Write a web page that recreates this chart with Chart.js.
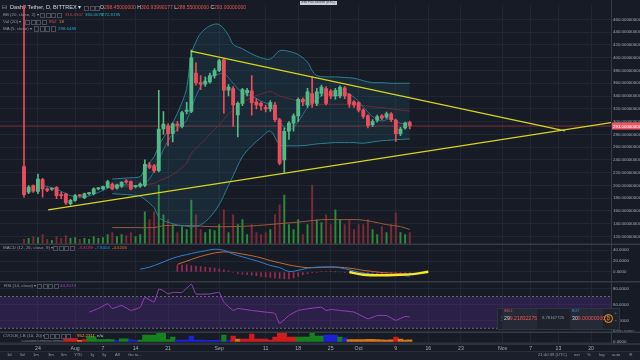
<!DOCTYPE html>
<html>
<head>
<meta charset="utf-8">
<script src="https://cdn.jsdelivr.net/npm/chart.js@4.4.1/dist/chart.umd.min.js"></script>
<style>
  html, body { margin: 0; padding: 0; background: #171b26; }
  #wrap { position: relative; width: 640px; height: 360px; overflow: hidden; background: #171b26; font-family: "Liberation Sans", Arial, sans-serif; }
  #c { position: absolute; left: 0; top: 0; }
  .t { position: absolute; white-space: nowrap; line-height: 1; }
  .ic { position: absolute; width: 3.2px; height: 3.2px; border: 0.7px solid #4c4f5a; }
  #bar { position: absolute; left: 0; top: 351px; width: 640px; height: 9px; background: #1b1f2b; border-top: 1px solid #2a2e39; }
  #widget { position: absolute; left: 497px; top: 308px; width: 123px; height: 22px; background: #1e222d; border: 1px solid #2f3340; box-sizing: border-box; }
</style>
</head>
<body>
<div id="wrap">
  <canvas id="c" width="640" height="360"></canvas>
  <div id="bar"></div>
  <div id="widget"></div>
  <div id="ov"></div>
</div>
<script>
// Dash / Tether daily, Bittrex. Day index 0 = Jul 21
const opens  = [229.6,189.5,199.8,190.5,209,194.6,194,197,184.5,186.9,
                171.4,176.6,184.5,180.7,187,187,194.6,194.6,197,202,
                195.6,198.7,207,206,198,198.7,199.8,232,230.7,222.9,
                288.4,293.5,281,296,292.5,316,315.7,376,361,358.5,
                362,372,380,396.6,349,351.7,310.5,328.6,345,348,
                331,328.6,322.4,319.8,326,302.8,240,284.8,297.6,309,
                334.7,326,344,328.6,344,351.7,347.6,340,340,353,
                342.5,331,329.6,318,309,295,302,309,307,312,
                301.8,281,290,298.45];
const highs  = [600,199.8,201,217.8,211,196,196,198,189,188,
                178,186,186,188,189,196,197,199,208,204,
                202,206,209,207,200,204,240,236,233,349,
                315.7,297,298,300,316,330,412,392,372,370,
                376,383,398,399,358,355,331,352,352,372,
                336,331,326,333,330,305,290,300,312,337,
                337,352,370,352,357,355,350,352,356,355,
                344,333,331,320,311,303,310,311,315,314,
                304,291,299,300.94];
const lows   = [181.7,186.9,189,187,181.7,190,192,179,179,170,
                169,175,182,179,185,185,193,193,196,193,
                194,197,203,193,196,197,198,226,220,221,
                280,262,268,285,290,312,314,357,350,355,
                360,368,378,313,340,292.5,276,325,340,310,
                320,318,315,316,300,232,220.4,272,285,300,
                325,322,322,325,340,326,336,335,337,336,
                322,322,315,305,290,292,299,303,305,300,
                269,278,288,288.55];
const closes = [185.3,197.2,191,210,194.6,192,194.6,184,184,172.5,
                176.6,184,183.5,187,187.5,194.6,195.4,198,206,194.6,
                200.8,204.9,205,194.6,198.6,202,233,228,223,288.4,
                296,281,296.6,293,314,318,399.7,360.5,358.5,363.6,
                372,380,395.5,349,354,326,328.6,350,349,329.6,
                326,324.4,319.8,329.6,302.8,234.8,284.8,297.6,309,334.7,
                331,346.6,328.6,346.6,354,328.6,339.9,349,354,340,
                327.5,326,318,308,293.5,300,307.7,305.4,312,302.8,
                281,288.4,297.6,293];
const volumes = [5,6,8,7,10,5,4,8,6,9,
                 6,7,5,6,5,8,6,7,10,12,
                 8,10,9,12,8,10,33,25,33,60,
                 30,25,20,12,18,15,45,30,15,12,
                 15,14,20,35,12,30,20,25,10,20,
                 12,10,12,15,30,40,50,20,15,25,
                 10,20,60,25,22,30,20,35,25,20,
                 25,15,20,20,25,15,10,18,12,20,
                 32,12,10,12];
const volMaDays = [19,24,28,30,33,36,40,45,50,55,60,64,68,72,75,78,81,83];
const volMa     = [17,17,17,19,19,19,18,18,19,21,23,25,25,25,23,20,18,15];

// Bollinger (20, 2)
const bbDays  = [19,21,23,25,26,27,28,29,30,31,32,33,34,35,36,37,38,40,42,44,45,47,49,51,53,55,57,59,61,62,63,65,67,69,71,73,75,77,79,81,83];
const bbUpper = [210,211,212,214,226,236,245,262,275,285,298,313,330,352,405,425,438,450,452,435,421,414,406,400,398,411,410,405,393,380,372,370,370,369,368,364,361,361,360,360,360];
const bbLower = [187,186,185,183,178,172,165,150,145,142,140,138,137,136,135,136,138,150,170,200,215,245,262,275,285,264,262,262,263,264,265,266,267,267,267,266,268,270,271,272,272.8];
const bbBasis = [198,198,198,199,200,202,203,207,210,213,217,222,228,235,250,258,265,280,295,312,318,330,338,343,347,340,336,332,327,326,326,327,327,327,326,325,323,322,320,318,316.45];
const ma5Days = [4,7,10,13,16,19,22,25,27,29,31,33,35,37,39,41,43,45,47,49,51,53,55,57,59,61,63,65,67,69,71,73,75,77,79,81,83];
const ma5     = [200,194,184,182,189,198,201,200,210,240,270,288,302,340,365,372,375,360,345,340,332,325,300,287,300,322,335,343,340,345,338,323,308,301,305,297,298.65];

// trend lines drawn on the chart: [day, price]
const supportLine    = [[5.2,161.7],[126.3,298.3]];
const resistanceLine = [[35.9,410.5],[116.4,285.3]];

// MACD (12, 26, 9)
const macdDays   = [25,27,29,31,33,35,37,39,41,43,45,47,49,51,53,55,57,59,61,63,65,67,69,71,73,75,77,79,81,83];
const macdLine   = [5,9,15,22,28,32,36,39,42,40,33,28,23,18,12,8,1,3,7,9,9,9,6,2,-2,-4,-5,-5,-6,-7.84];
const signalDays = [33,35,37,39,41,43,45,47,49,51,53,55,57,59,61,63,65,67,69,71,73,75,77,79,81,83];
const signalLine = [14,20,26,31,35,37,36,33,30,26,21,17,13,10,8,8,9,9,8,6,3,1,-1,-2,-3,-4.52];
const histStart  = 33;
const macdHist   = [12,13,13,12,11,10,9,8,7,6,4,2,
                    -1,-3,-4,-5,-6,-7,-8,-9,-10,-11,-12,-13,-13,-11,-8,-5,-3,-1.5,-0.5,0.5,
                    1,0.5,0.3,0,-0.5,-1,-2,-3,-4,-4.5,-5,-4.5,-4,-3.5,-3.5,-3.5,-3.4,-3.3,-3.32];
const macdMark   = [[70,0],[73,-5],[78,-6],[83,-4.5],[87,0.5]];

// RSI (14)
const rsiDays = [14,16,18,19,21,23,25,26,28,29,30,31,32,34,36,37,40,42,43,45,46,49,52,54,55,57,59,61,64,65,66,68,71,74,76,78,80,82,83];
const rsiVals = [50.4,55,61,55,58.8,52.5,56.6,69,63,79.6,77.5,73.4,75.4,75.4,85.9,73.4,73.4,75.4,63,52.5,55,52.5,50.4,48.75,35.9,46.25,52.5,54.6,56.6,52.5,53.75,52.5,50.4,42,46,46,40,45,44.21];

// CVOLB_LB (10, 20)
const cvol = [600,700,800,600,900,700,600,800,700,
              1800,1900,1800,800,1200,
              2600,2600,1300,1300,1400,1200,
              900,1600,1600,1200,800,
              1000,3500,3500,3500,5200,5200,1200,2500,
              1000,1000,1000,3000,1000,1000,900,900,900,1000,
              3500,1000,
              3000,1500,1500,1500,4000,1500,1500,1500,1000,2500,4500,4500,2500,2500,
              2500,2500,2500,5200,3000,3000,
              3500,3500,3500,2500,2000,
              1300,1300,1200,1300,1400,1400,1200,1100,1000,1100,2500,1500,1000,1100];
const cvolState = 'nnnnnnnnnrrrorggggggbggbbggggggggbbbbbbbbbbgbrorrrrrrrrrrrrggggggbbbgboooooooooorooo'.split('');

const xTickDays = [3,11,17,24,31,42,52,59,66,72,80,87,94,103,109,115,122];
const xTickText = ['24','Aug','7','14','21','Sep','11','18','25','Oct','9','16','23','Nov','7','13','20'];
const priceTicks = [120,140,160,180,200,220,240,260,280,300,320,340,360,380,400,420,440,460];

const lastClose = closes[closes.length - 1];

const UP = '#53b987', DOWN = '#eb4d5c';
const GRID = '#222633', SEP = '#363a45', TXT = '#a9acb6';
const CVOL_COLORS = { n: '#4a4d57', r: '#d01c1c', g: '#16801f', b: '#1c22d4', o: '#d8741a' };

const pairs = (days, vals) => days.map((d, i) => ({ x: d, y: vals[i] }));
const xy = arr => arr.map(p => ({ x: p[0], y: p[1] }));
const idx = opens.map((_, i) => i);
const candleColor = idx.map(i => closes[i] >= opens[i] ? UP : DOWN);

const lineDs = (axis, data, color, width, extra) => Object.assign({
  type: 'line', yAxisID: axis, data, borderColor: color, borderWidth: width,
  pointRadius: 0, tension: 0.35, fill: false
}, extra || {});

const yAxis = (weight, min, max, ticks, fmt) => ({
  type: 'linear', position: 'right', stack: 'panes', stackWeight: weight, min, max, offset: false,
  afterBuildTicks: a => { a.ticks = ticks.map(v => ({ value: v })); },
  afterFit: a => { a.width = 29; },
  ticks: { color: TXT, font: { size: 4.4, family: 'Liberation Sans' }, padding: 2, autoSkip: false, callback: fmt },
  grid: { color: GRID, drawTicks: false },
  border: { color: SEP }
});

const panePlugin = {
  id: 'panes',
  beforeDatasetsDraw(chart) {
    const { ctx, chartArea: a, scales: s } = chart;
    ctx.save();
    const y70 = s.rsi.getPixelForValue(70), y30 = s.rsi.getPixelForValue(30);
    ctx.fillStyle = 'rgba(120,50,190,0.22)';
    ctx.fillRect(a.left, y70, a.right - a.left, y30 - y70);
    ctx.setLineDash([2, 2]);
    ctx.strokeStyle = '#7d7f8c';
    ctx.lineWidth = 0.8;
    [y70, y30].forEach(y => { ctx.beginPath(); ctx.moveTo(a.left, y); ctx.lineTo(a.right, y); ctx.stroke(); });
    ctx.setLineDash([]);
    const py = s.price.getPixelForValue(lastClose);
    ctx.strokeStyle = 'rgba(200,60,75,0.6)';
    ctx.lineWidth = 1;
    ctx.beginPath(); ctx.moveTo(a.left, py); ctx.lineTo(a.right, py); ctx.stroke();
    ctx.restore();
  },
  afterDraw(chart) {
    const { ctx, chartArea: a, scales: s } = chart;
    ctx.save();
    ctx.strokeStyle = SEP;
    ctx.lineWidth = 1.5;
    [s.macd.top, s.rsi.top, s.cvol.top, a.bottom].forEach(y => {
      ctx.beginPath(); ctx.moveTo(0, y); ctx.lineTo(640, y); ctx.stroke();
    });
    ctx.lineWidth = 1;
    ctx.beginPath(); ctx.moveTo(a.right + 0.5, 0); ctx.lineTo(a.right + 0.5, a.bottom); ctx.stroke();
    // last price tag
    const py = s.price.getPixelForValue(lastClose);
    ctx.fillStyle = '#ef5566';
    ctx.fillRect(a.right + 1, py - 3.5, 28, 7);
    ctx.fillStyle = '#ffffff';
    ctx.font = '4.4px "Liberation Sans"';
    ctx.textBaseline = 'middle';
    ctx.fillText(lastClose.toFixed(8), a.right + 2, py + 0.3);
    ctx.restore();
  }
};

new Chart(document.getElementById('c'), {
  data: {
    datasets: [
      lineDs('price', pairs(bbDays, bbUpper), '#2b7f8f', 1, { fill: '+1', backgroundColor: 'rgba(40,150,170,0.12)', order: 20 }),
      lineDs('price', pairs(bbDays, bbLower), '#2b7f8f', 1, { order: 20 }),
      lineDs('price', pairs(bbDays, bbBasis), '#6b2c3a', 1, { order: 19 }),
      lineDs('price', pairs(ma5Days, ma5), '#2a6f92', 1, { order: 18 }),
      {
        type: 'bar', yAxisID: 'vol', grouped: false, order: 25,
        data: idx.map(i => ({ x: i, y: volumes[i] })),
        backgroundColor: idx.map(i => closes[i] >= opens[i] ? '#2c8a3a' : '#7a2b36'),
        barThickness: 1.3
      },
      lineDs('vol', pairs(volMaDays, volMa), '#9a5a38', 1, { order: 24 }),
      {
        type: 'bar', yAxisID: 'price', grouped: false, order: 11,
        data: idx.map(i => ({ x: i, y: [lows[i], highs[i]] })),
        backgroundColor: candleColor, barThickness: 1
      },
      {
        type: 'bar', yAxisID: 'price', grouped: false, order: 10, minBarLength: 1,
        data: idx.map(i => ({ x: i, y: [opens[i], closes[i]] })),
        backgroundColor: candleColor, barThickness: 3.2
      },
      lineDs('price', xy(supportLine), '#d6d41c', 1.3, { tension: 0, order: 1 }),
      lineDs('price', xy(resistanceLine), '#d6d41c', 1.3, { tension: 0, order: 1 }),
      {
        type: 'bar', yAxisID: 'macd', grouped: false, order: 9,
        data: macdHist.map((v, i) => ({ x: histStart + i, y: v })),
        backgroundColor: '#9c2b55', barThickness: 1
      },
      lineDs('macd', pairs(macdDays, macdLine), '#2f7fd0', 1, { order: 8 }),
      lineDs('macd', pairs(signalDays, signalLine), '#c8692c', 1, { order: 8 }),
      lineDs('macd', xy(macdMark), '#f5e928', 2.4, { tension: 0.4, order: 2 }),
      lineDs('rsi', pairs(rsiDays, rsiVals), '#9b40c0', 1, { tension: 0.1, order: 8 }),
      {
        type: 'bar', yAxisID: 'cvol', grouped: false, order: 9,
        data: idx.map(i => ({ x: i, y: cvol[i] })),
        backgroundColor: cvolState.map(k => CVOL_COLORS[k]),
        barPercentage: 1, categoryPercentage: 1
      }
    ]
  },
  options: {
    responsive: false,
    animation: false,
    events: [],
    layout: { padding: { left: 0, right: 0, top: 0, bottom: 7 } },
    plugins: { legend: { display: false }, tooltip: { enabled: false } },
    scales: {
      x: {
        type: 'linear', min: -5.165, max: 126.3, offset: false,
        afterBuildTicks: a => { a.ticks = xTickDays.map(v => ({ value: v })); },
        afterFit: a => { a.height = 9; },
        ticks: {
          color: TXT, font: { size: 5.2, family: 'Liberation Sans' }, padding: 1.5,
          maxRotation: 0, autoSkip: false,
          callback: v => xTickText[xTickDays.indexOf(v)]
        },
        grid: { color: GRID, drawTicks: false, offset: false },
        border: { display: false }
      },
      price: yAxis(243, 107.6, 483.2, priceTicks, v => v.toFixed(8)),
      macd: yAxis(38, -18.2, 50.9, [0, 20, 40], v => v.toFixed(4)),
      rsi: yAxis(51, 25, 88.75, [40, 60, 80], v => v.toFixed(4)),
      cvol: yAxis(12, -1000, 5000, [0, 5000], v => v.toFixed(4)),
      vol: { type: 'linear', display: false, min: -101, max: 243 }
    }
  },
  plugins: [panePlugin]
});

// ---- texts around the chart (legends, toolbar, trade widget) ----
const ov = document.getElementById('ov');
function txt(x, cy, s, color, size, extra) {
  const d = document.createElement('div');
  d.className = 't';
  d.style.left = x + 'px';
  d.style.top = (cy - size * 0.5) + 'px';
  d.style.fontSize = size + 'px';
  d.style.color = color;
  if (extra) Object.assign(d.style, extra);
  d.innerHTML = s;
  ov.appendChild(d);
  return d;
}
function icons(x, cy, n) {
  for (let i = 0; i < n; i++) {
    const d = document.createElement('div');
    d.className = 'ic';
    d.style.left = (x + i * 5.5) + 'px';
    d.style.top = (cy - 2.3) + 'px';
    ov.appendChild(d);
  }
}
const RED = '#ef5350', LEG = '#9598a1';
txt(2, 7.8, '⊟', LEG, 5.6);
txt(10, 7.8, 'Dash / Tether, D, BITTREX ▾', '#d1d4dc', 5.6);
icons(84, 7.8, 3);
txt(100, 7.8, 'O<span style="color:' + RED + '">298.45000000</span> H<span style="color:' + RED + '">300.93990177</span> L<span style="color:' + RED + '">288.55000000</span> C<span style="color:' + RED + '">293.00000000</span>', '#d1d4dc', 5);
txt(3, 15, 'BB (20, close, 2) ▾', LEG, 4.4);
icons(40, 15, 4);
txt(65, 15, '316.4507', '#b8455c', 4.4);
txt(85, 15, '360.0078', '#2ab0bf', 4.4);
txt(102, 15, '272.8195', '#2ab0bf', 4.4);
txt(3, 22, 'Vol (20) ▾', LEG, 4.4);
icons(25, 22, 4);
txt(49, 22, '952', '#e0524d', 4.4);
txt(59, 22, '18', '#d88b3a', 4.4);
txt(3, 28.7, 'MA (5, close) ▾', LEG, 4.4);
icons(34, 28.7, 4);
txt(58, 28.7, '298.6485', '#2aa3c8', 4.4);
txt(300, 2.5, 'Exit Full Screen (ESC)', '#3a3d47', 3.4, { background: '#c9ccd4', padding: '0.6px 1.5px' });

txt(3, 248.3, 'MACD (12, 26, close, 9) ▾', LEG, 4.4);
icons(53, 248.3, 4);
txt(78, 248.3, '-3.3199', '#e0306a', 4.4);
txt(95, 248.3, '-7.8404', '#2f8ae6', 4.4);
txt(112, 248.3, '-4.5206', '#f07020', 4.4);
txt(4, 286, 'RSI (14, close) ▾', LEG, 4.4);
icons(37, 286, 4);
txt(60, 286, '44.2074', '#a648c0', 4.4);
txt(3, 336, 'CVOLB_LB (10, 20) ▾', LEG, 4.4);
icons(44, 336, 5);
txt(77, 336, '952.2311', '#f0a030', 4.4);
txt(97, 336, 'n/a', '#c9ccd4', 4.4);

// bottom toolbar
[['1d', 7], ['5d', 20], ['1m', 33], ['3m', 48], ['6m', 61], ['YTD', 74], ['1y', 90], ['5y', 102], ['All', 115], ['Go to...', 128]]
  .forEach(p => txt(p[1], 355.5, p[0], LEG, 4.2));
[['21:40:39 (UTC)', 538], ['ext', 574], ['%', 587], ['log', 599], ['auto', 612], ['⚙', 629]]
  .forEach(p => txt(p[1], 355.5, p[0], LEG, 4.2));

// trade widget
txt(498.5, 318.5, '⋮', '#6a6d78', 5);
txt(502, 309, '', '', 1, { width: '35px', height: '20px', background: '#262a36', top: '309px' });
txt(504, 311.5, 'SELL', RED, 3.6);
txt(504, 318.8, '29<span style="color:' + RED + '">9.21832275</span>', '#d1d4dc', 5.2);
txt(542, 318.5, '9.78167725', LEG, 4.2);
txt(570, 309, '', '', 1, { width: '33px', height: '20px', background: '#262a36', top: '309px' });
txt(572, 311.5, 'BUY', '#2196f3', 3.6);
txt(572, 318.8, '30<span style="color:' + RED + '">9.00000000</span>', '#d1d4dc', 5.2);
txt(604, 318.5, '₿', '#f7931a', 6, { border: '1px solid #f7931a', borderRadius: '50%', width: '7px', height: '7px', lineHeight: '7px', textAlign: 'center', fontSize: '4.5px', top: '314px' });
txt(614.5, 313, '+', LEG, 4.4);
txt(614.5, 321, '−', LEG, 4.4);
</script>
</body>
</html>
